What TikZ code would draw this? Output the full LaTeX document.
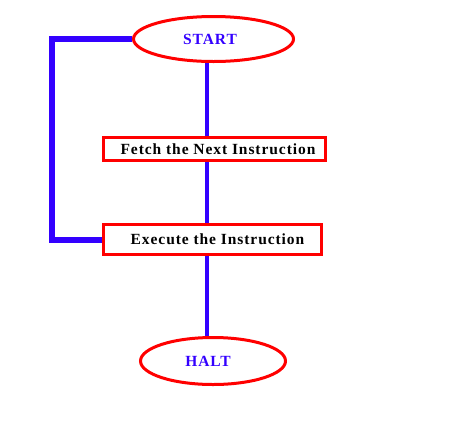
\documentclass[tikz,border=0pt]{standalone}
\usepackage{fontspec}
\setmainfont[LetterSpace=6]{Liberation Serif}
\usetikzlibrary{shapes.geometric}
\definecolor{flowblue}{RGB}{51,0,255}
\definecolor{flowred}{RGB}{255,0,0}

\begin{document}
\begin{tikzpicture}[x=1pt, y=-1pt,
    terminal/.style={ellipse, draw=flowred, line width=3, inner sep=0,
      text=flowblue, font=\fontsize{15.5}{17}\selectfont\bfseries},
    stepbox/.style={rectangle, draw=flowred, line width=3, inner sep=0,
      font=\fontsize{15.5}{17}\selectfont\bfseries},
    link/.style={line width=3.5, color=flowblue},
    loopback/.style={line width=6, color=flowblue}]
      \useasboundingbox (0,0) rectangle (455,421);
      \node [terminal, minimum width=160, minimum height=45] (start) at (213.5,39) {START\hspace*{7pt}};
      \node [stepbox, minimum width=222, minimum height=23] (fetch) at (214.5,149) {\hspace*{7pt}Fetch the Next Instruction};
      \node [stepbox, minimum width=218, minimum height=30] (exec) at (212.5,239.5) {\hspace*{10pt}Execute the Instruction};
      \node [terminal, minimum width=145, minimum height=47] (halt) at (213,361) {HALT\hspace*{10pt}};
      \coordinate (loop) at (52,0);
      \draw [link] ([xshift=-6.5]start.south) -- ([xshift=-7.5]fetch.north);
      \draw [link] ([xshift=-7.5]fetch.south) -- ([xshift=-5.5]exec.north);
      \draw [link] ([xshift=-5.5]exec.south) -- ([xshift=-6]halt.north);
      \draw [loopback] (start.west) -- (start.west -| loop) -- (loop |- exec.west) -- (exec.west);
\end{tikzpicture}
\end{document}
